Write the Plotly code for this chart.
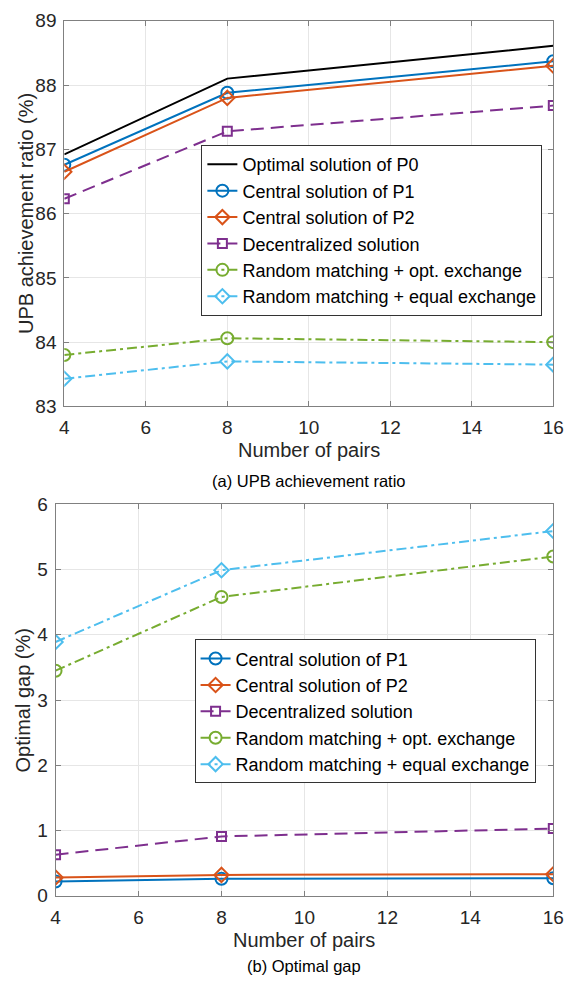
import plotly.graph_objects as go

# ---------------- data ----------------
pairs = [4, 8, 16]

# (a) UPB achievement ratio (%)
upb_p0 = [86.92, 88.10, 88.61]
upb_p1 = [86.76, 87.88, 88.37]
upb_p2 = [86.65, 87.80, 88.30]
upb_dec = [86.23, 87.28, 87.68]
upb_rand_opt = [83.80, 84.06, 84.00]
upb_rand_eq = [83.43, 83.70, 83.65]

# (b) Optimal gap (%)
gap_p1 = [0.22, 0.26, 0.27]
gap_p2 = [0.28, 0.32, 0.33]
gap_dec = [0.63, 0.91, 1.03]
gap_rand_opt = [3.45, 4.58, 5.20]
gap_rand_eq = [3.89, 4.99, 5.59]

names = ["Optimal solution of P0", "Central solution of P1", "Central solution of P2",
         "Decentralized solution", "Random matching + opt. exchange",
         "Random matching + equal exchange"]

x_ticks = [4, 6, 8, 10, 12, 14, 16]
y1_ticks = [83, 84, 85, 86, 87, 88, 89]
y2_ticks = [0, 1, 2, 3, 4, 5, 6]

# ---------------- styles ----------------
C_BLACK = "#000000"
C_BLUE = "#0072BD"
C_ORANGE = "#D95319"
C_PURPLE = "#7E2F8E"
C_GREEN = "#77AC30"
C_LBLUE = "#4DBEEE"
DASH = "13px,7px"
DASHDOT = "10px,4px,3px,4px"
FONT = "Liberation Sans, Arial, Helvetica, sans-serif"
LW = 2

W, H = 575, 990


def px_x(p):
    return p / W


def px_y(p):
    return 1 - p / H


fig = go.Figure()

series_top = [
    (upb_p0, names[0], C_BLACK, "solid", None, 0),
    (upb_p1, names[1], C_BLUE, "solid", "circle-open", 12),
    (upb_p2, names[2], C_ORANGE, "solid", "diamond-open", 11),
    (upb_dec, names[3], C_PURPLE, DASH, "square-open", 9),
    (upb_rand_opt, names[4], C_GREEN, DASHDOT, "circle-open", 12),
    (upb_rand_eq, names[5], C_LBLUE, DASHDOT, "diamond-open", 11),
]
for vals, nm, col, dash, sym, sz in series_top:
    if sym is None:
        fig.add_trace(go.Scatter(x=pairs, y=vals, name=nm, mode="lines",
                                 line=dict(color=col, width=LW, dash=dash),
                                 xaxis="x", yaxis="y", legend="legend"))
    else:
        fig.add_trace(go.Scatter(x=pairs, y=vals, name=nm, mode="lines+markers",
                                 line=dict(color=col, width=LW, dash=dash),
                                 marker=dict(symbol=sym, size=sz, color=col,
                                             line=dict(width=2, color=col)),
                                 xaxis="x", yaxis="y", legend="legend"))

series_bot = [
    (gap_p1, names[1], C_BLUE, "solid", "circle-open", 12),
    (gap_p2, names[2], C_ORANGE, "solid", "diamond-open", 11),
    (gap_dec, names[3], C_PURPLE, DASH, "square-open", 9),
    (gap_rand_opt, names[4], C_GREEN, DASHDOT, "circle-open", 12),
    (gap_rand_eq, names[5], C_LBLUE, DASHDOT, "diamond-open", 11),
]
for vals, nm, col, dash, sym, sz in series_bot:
    fig.add_trace(go.Scatter(x=pairs, y=vals, name=nm, mode="lines+markers",
                             line=dict(color=col, width=LW, dash=dash),
                             marker=dict(symbol=sym, size=sz, color=col,
                                         line=dict(width=2, color=col)),
                             xaxis="x2", yaxis="y2", legend="legend2"))

axis_common = dict(
    showline=True, linecolor="#808080", linewidth=1, mirror="ticks",
    ticks="inside", ticklen=5, tickcolor="#808080", tickwidth=1,
    showgrid=True, gridcolor="#e6e6e6", gridwidth=1, zeroline=False,
    tickfont=dict(family=FONT, size=19, color="#262626"),
)

top_l, top_r, top_t, top_b = 61, 564, 11, 405
bot_l, bot_r, bot_t, bot_b = 52, 564, 505, 905

LEG_FONT = dict(family=FONT, size=18, color="#000000")

fig.update_layout(
    width=W, height=H, margin=dict(l=0, r=0, t=0, b=0),
    paper_bgcolor="white", plot_bgcolor="white",
    xaxis=dict(domain=[px_x(top_l), px_x(top_r)], range=[4, 16], tickvals=x_ticks,
               anchor="y", ticklabelstandoff=4, **axis_common),
    yaxis=dict(domain=[px_y(top_b), px_y(top_t)], range=[83, 89], tickvals=y1_ticks,
               anchor="x", ticklabelstandoff=3, **axis_common),
    xaxis2=dict(domain=[px_x(bot_l), px_x(bot_r)], range=[4, 16], tickvals=x_ticks,
                anchor="y2", ticklabelstandoff=4, **axis_common),
    yaxis2=dict(domain=[px_y(bot_b), px_y(bot_t)], range=[0, 6], tickvals=y2_ticks,
                anchor="x2", ticklabelstandoff=3, **axis_common),
    legend=dict(x=px_x(202), y=px_y(138), xanchor="left", yanchor="top",
                bgcolor="white", bordercolor="#333333", borderwidth=1,
                font=LEG_FONT, tracegroupgap=0, itemwidth=30),
    legend2=dict(x=px_x(195), y=px_y(643), xanchor="left", yanchor="top",
                 bgcolor="white", bordercolor="#333333", borderwidth=1,
                 font=LEG_FONT, tracegroupgap=0, itemwidth=30),
    showlegend=True,
)

ann_font = dict(family=FONT, size=20, color="#262626")
cap_font = dict(family=FONT, size=16.5, color="#000000")
annotations = [
    dict(text="UPB achievement ratio (%)", x=px_x(21), y=px_y((top_t + top_b) / 2),
         textangle=-90, font=ann_font),
    dict(text="Number of pairs", x=px_x((top_l + top_r) / 2), y=px_y(450), font=ann_font),
    dict(text="(a) UPB achievement ratio", x=px_x((top_l + top_r) / 2), y=px_y(481), font=cap_font),
    dict(text="Optimal gap (%)", x=px_x(19), y=px_y((bot_t + bot_b) / 2),
         textangle=-90, font=ann_font),
    dict(text="Number of pairs", x=px_x((bot_l + bot_r) / 2), y=px_y(950), font=ann_font),
    dict(text="(b) Optimal gap", x=px_x((bot_l + bot_r) / 2), y=px_y(977), font=cap_font),
]
for a in annotations:
    a.update(xref="paper", yref="paper", showarrow=False, xanchor="center", yanchor="middle")
fig.update_layout(annotations=annotations)

fig.write_html("out.html")
